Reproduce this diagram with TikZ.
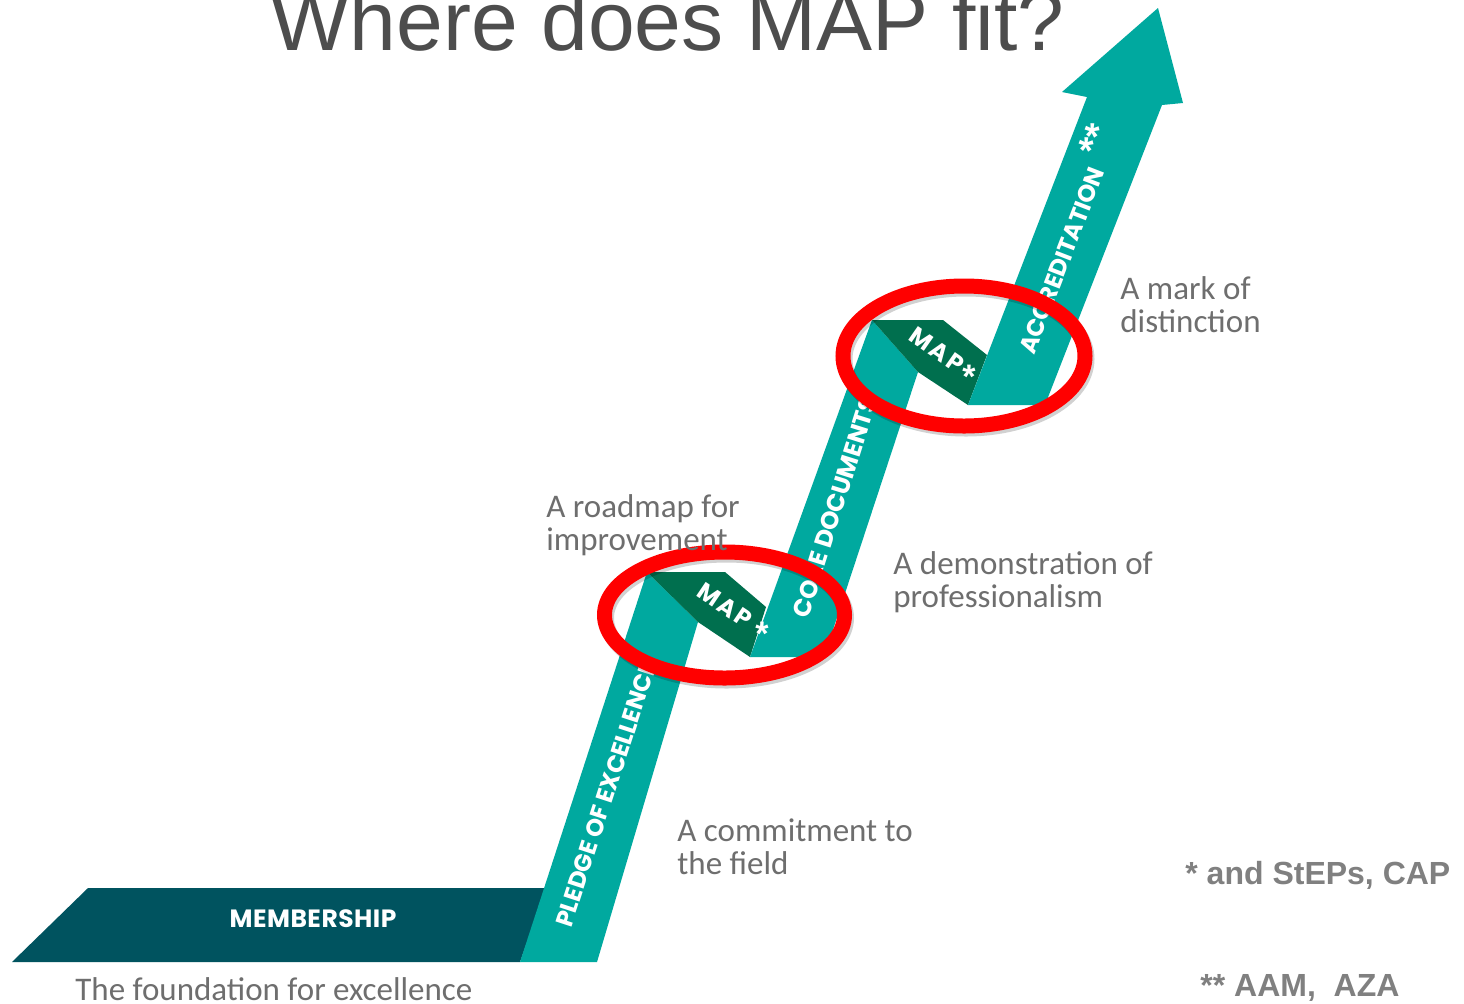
\documentclass[tikz,border=0pt]{standalone}
\usepackage{fontspec}
\setmainfont{Liberation Sans}
\newfontfamily\labfont{Carlito}
\newfontfamily\bandfont{Poppins}
\definecolor{membcol}{HTML}{00535F}
\definecolor{tealband}{HTML}{00A99F}
\definecolor{mapgreen}{HTML}{006F4E}
\definecolor{ringred}{HTML}{FF0000}
\definecolor{titlegrey}{HTML}{4D4D4D}
\definecolor{labgrey}{HTML}{6E6E6E}
\definecolor{notegrey}{HTML}{808080}
\tikzset{
  bandtxt/.style={text=white, inner sep=0pt, font=\bandfont\bfseries\fontsize{12}{14}\selectfont},
  membtxt/.style={text=white, inner sep=0pt, font=\bandfont\bfseries\fontsize{12.5}{14}\selectfont\addfontfeature{LetterSpace=2}},
  maptxt/.style={text=white, inner sep=0pt, font=\bandfont\bfseries\fontsize{12}{14}\selectfont\addfontfeature{LetterSpace=10}},
  startxt/.style={text=white, inner sep=0pt, font=\bfseries\fontsize{17}{19}\selectfont},
  labtxt/.style={text=labgrey, inner sep=0pt, anchor=base west, font=\labfont\fontsize{16.5}{16.5}\selectfont},
  notetxt/.style={text=notegrey, inner sep=0pt, anchor=base west, font=\bfseries\fontsize{16}{18}\selectfont},
  ring/.style={draw=ringred, line width=7.5pt},
  ringshadow/.style={draw=black, opacity=0.18, line width=7.5pt}
}
\begin{document}
\begin{tikzpicture}[x=0.5pt,y=-0.5pt]
\useasboundingbox (0,0) rectangle (1464,1003);
\fill[white] (0,0) rectangle (1464,1003);

% title
\node[text=titlegrey, inner sep=0pt, anchor=base, font=\fontsize{42}{46}\selectfont] (title) at (667.5,50) {Where does MAP fit?};

% staircase ribbon
\fill[membcol] (88,888) -- (546,888) -- (520,962) -- (12,962) -- cycle;
\fill[tealband] (520,962) -- (597,962) -- (698,622) -- (647,572) -- cycle;
\fill[mapgreen] (647,572) -- (725,572) -- (766,607) -- (750,657) -- (698,622) -- cycle;
\fill[tealband] (750,657) -- (824,657) -- (918,372) -- (872,320) -- cycle;
\fill[mapgreen] (872,320) -- (943,320) -- (987,355) -- (968,405) -- (918,372) -- cycle;
\fill[tealband] (968,405) -- (1045,405) -- (1162,105) -- (1183,103) -- (1158,8) -- (1062,92) -- (1087,97) -- cycle;

% band labels
\node[membtxt] (memb) at (313,919) {MEMBERSHIP};
\node[bandtxt, rotate=71.9, anchor=west] (pledge) at (563,926) {PLEDGE OF EXCELLENCE};
\node[bandtxt, rotate=72.5, anchor=west, font=\bandfont\bfseries\fontsize{12.3}{14}\selectfont] (core) at (800,617) {CORE DOCUMENTS};
\node[bandtxt, rotate=68.9, anchor=west] (accred) at (1026,353) {ACCREDITATION};
\node[startxt, rotate=68.9, font=\bfseries\fontsize{19}{21}\selectfont] (accstar) at (1095,140) {**};
\node[maptxt, rotate=-34] (mapone) at (725,605) {MAP};
\node[startxt] (starone) at (762,634) {*};
\node[maptxt, rotate=-35] (maptwo) at (937,350) {MAP};
\node[startxt] (startwo) at (969,377) {*};

% red rings
\draw[ringshadow] (726.5,618) ellipse [x radius=60pt, y radius=31.5pt];
\draw[ring] (724.5,615) ellipse [x radius=60pt, y radius=31.5pt];
\draw[ringshadow] (966,359) ellipse [x radius=60.5pt, y radius=35pt];
\draw[ring] (964,356) ellipse [x radius=60.5pt, y radius=35pt];

% grey captions
\node[labtxt] (road1) at (546,517) {A roadmap for};
\node[labtxt] (road2) at (546,550) {improvement};
\node[labtxt] (demo1) at (893,574) {A demonstration of};
\node[labtxt] (demo2) at (893,607) {professionalism};
\node[labtxt] (mark1) at (1120,299) {A mark of};
\node[labtxt] (mark2) at (1120,332) {distinction};
\node[labtxt] (comm1) at (677,841) {A commitment to};
\node[labtxt] (comm2) at (677,874) {the field};
\node[labtxt] (found) at (75,1000) {The foundation for excellence};

% footnotes
\node[notetxt] (noteone) at (1185,884) {* and StEPs, CAP};
\node[notetxt] (notetwo) at (1200,996) {** AAM,\ \ AZA};
\end{tikzpicture}
\end{document}
